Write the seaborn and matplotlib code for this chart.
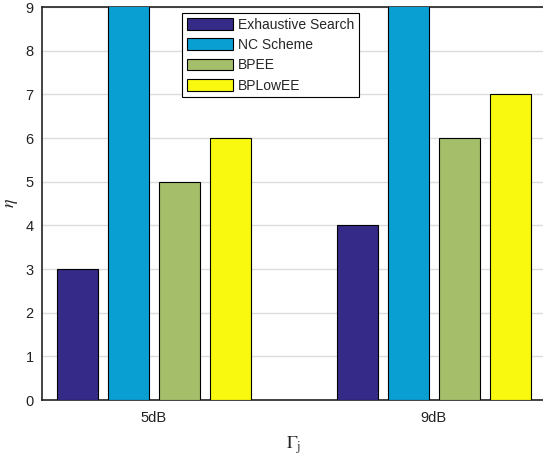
import matplotlib
matplotlib.use("Agg")
import matplotlib.pyplot as plt
import seaborn as sns
import pandas as pd

# values
snr_levels = ["5dB", "9dB"]
schemes = ["Exhaustive Search", "NC Scheme", "BPEE", "BPLowEE"]
exhaustive = [3, 4]
nc_scheme = [10, 10]   # clipped at the top of the axes
bpee = [5, 6]
bplowee = [6, 7]
colors = ["#352a87", "#0a9fd3", "#a5be6a", "#f8f90e"]

data = pd.DataFrame({
    "snr": snr_levels * 4,
    "scheme": [s for s in schemes for _ in snr_levels],
    "eta": exhaustive + nc_scheme + bpee + bplowee,
})

sns.set_style("white")
plt.rcParams["font.family"] = ["Liberation Sans", "DejaVu Sans"]
plt.rcParams["mathtext.fontset"] = "stix"

fig = plt.figure(figsize=(5.43, 4.61), dpi=100)
ax = fig.add_axes([0.0773, 0.1323, 0.928, 0.8525])

sns.barplot(data=data, x="snr", y="eta", hue="scheme", hue_order=schemes,
            palette=colors, saturation=1, errorbar=None, width=0.728, gap=0.2,
            edgecolor="black", linewidth=0.8, ax=ax, zorder=3)

ax.set_xlim(-0.4, 1.4)
ax.set_ylim(0, 9)
ax.set_yticks(range(0, 10))
ax.yaxis.grid(True, color="#dcdcdc", linewidth=1, zorder=0)
ax.set_axisbelow(True)

for side in ["left", "top", "bottom", "right"]:
    ax.spines[side].set_color("#222222")
    ax.spines[side].set_linewidth(1.2)

ax.tick_params(axis="both", direction="in", length=4, width=0.8,
               labelsize=10.5, colors="#222222", labelcolor="#222222")
ax.tick_params(axis="x", pad=8)
ax.tick_params(axis="y", pad=6)

ax.set_xlabel(r"$\Gamma_{\rm j}$", fontsize=13, labelpad=7)
ax.set_ylabel(r"$\eta$", fontsize=13, labelpad=4)

leg = ax.legend(loc="upper left", bbox_to_anchor=(0.335, 0.972),
                bbox_transform=fig.transFigure, fontsize=10,
                frameon=True, fancybox=False, edgecolor="black",
                handlelength=3.3, handleheight=0.95, labelspacing=0.45,
                handletextpad=0.4, borderpad=0.35, borderaxespad=0)
leg.get_frame().set_linewidth(0.8)
leg.get_frame().set_alpha(1)

fig.savefig("out.png", dpi=100)
